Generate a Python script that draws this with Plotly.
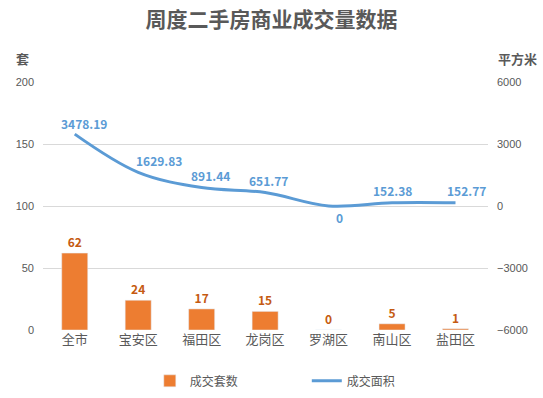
import plotly.graph_objects as go

categories = ["全市", "宝安区", "福田区", "龙岗区", "罗湖区", "南山区", "盐田区"]
units = [62, 24, 17, 15, 0, 5, 1]
area = [3478.19, 1629.83, 891.44, 651.77, 0, 152.38, 152.77]
area_labels = ["3478.19", "1629.83", "891.44", "651.77", "0", "152.38", "152.77"]

# label offsets (style only, in pixels)
label_dx = [9, 21, 9, 3, 11, 0, 11]
label_dy = [11, 12, 12, 12, -11, 12, 12]

FONT = "Noto Sans CJK SC"
GRAY = "#595959"
BLUE = "#5B9BD5"

fig = go.Figure()
fig.add_trace(go.Bar(
    x=categories, y=units, name="成交套数",
    marker=dict(color="#ED7D31"), width=0.41,
    text=[str(v) for v in units], textposition="outside",
    textfont=dict(color="#C55A11", size=12, family=FONT, weight="bold"),
    cliponaxis=False,
))
fig.add_trace(go.Scatter(
    x=categories, y=area, name="成交面积", yaxis="y2",
    mode="lines", line=dict(color=BLUE, width=3, shape="spline", smoothing=1.0),
    cliponaxis=False,
))
for c, v, t, dx, dy in zip(categories, area, area_labels, label_dx, label_dy):
    fig.add_annotation(x=c, y=v, xref="x", yref="y2", text=t, showarrow=False,
                       xshift=dx, yshift=dy, xanchor="center", yanchor="middle",
                       font=dict(color=BLUE, size=12, family=FONT, weight="bold"))

fig.update_layout(
    width=543, height=398,
    margin=dict(l=43, r=55, t=82, b=68, autoexpand=False),
    paper_bgcolor="white", plot_bgcolor="white",
    font=dict(family=FONT, color=GRAY),
    title=dict(text="周度二手房商业成交量数据", x=0.5, xanchor="center", y=0.95, yanchor="middle",
               font=dict(size=21, color=GRAY, family=FONT, weight="bold")),
    showlegend=True,
    legend=dict(orientation="h", x=0.24, xanchor="left", y=-0.205, yanchor="middle",
                font=dict(size=12, color=GRAY), itemwidth=30, tracegroupgap=0,
                entrywidth=112, entrywidthmode="pixels"),
    xaxis=dict(showgrid=False, showline=False, ticks="", tickfont=dict(size=13, color=GRAY),
               automargin=False),
    yaxis=dict(range=[0, 200], dtick=50, showgrid=True, gridcolor="#D9D9D9", gridwidth=1,
               zeroline=False, showline=False, automargin=False,
               tickfont=dict(size=11, color=GRAY, family="Liberation Sans"),
               ticklabelstandoff=8),
    yaxis2=dict(range=[-6000, 6000], dtick=3000, overlaying="y", side="right", showgrid=False,
                zeroline=False, showline=False, automargin=False,
                tickfont=dict(size=11, color=GRAY, family="Liberation Sans"),
                ticklabelstandoff=8),
    bargap=0.59,
)
fig.add_annotation(text="<b>套</b>", xref="paper", yref="paper", x=-0.045, y=1.095,
                   showarrow=False, font=dict(size=13, color=GRAY), xanchor="center", yanchor="middle")
fig.add_annotation(text="<b>平方米</b>", xref="paper", yref="paper", x=1.115, y=1.095,
                   showarrow=False, font=dict(size=13, color=GRAY), xanchor="right", yanchor="middle")

fig.write_html("out.html", config={"displayModeBar": False},
               post_script="document.body.style.margin='0';")
